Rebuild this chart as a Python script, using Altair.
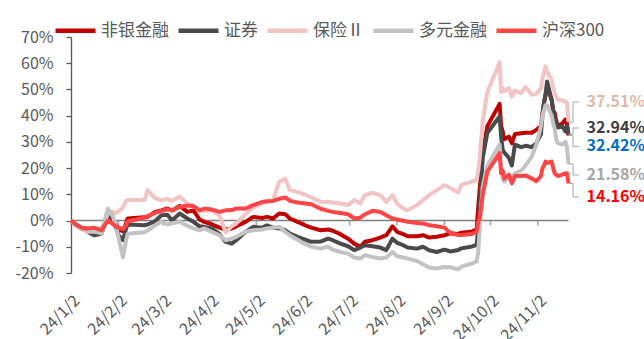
import altair as alt
import pandas as pd

# ---- data: cumulative return since 2024-01-02, in percent ----
dates = [
    "2024-01-02", "2024-01-05", "2024-01-09", "2024-01-12", "2024-01-17", "2024-01-22",
    "2024-01-24", "2024-01-26", "2024-01-29", "2024-01-31", "2024-02-02", "2024-02-05",
    "2024-02-07", "2024-02-08", "2024-02-19", "2024-02-21", "2024-02-26", "2024-03-01",
    "2024-03-05", "2024-03-08", "2024-03-13", "2024-03-18", "2024-03-22",
    "2024-03-26", "2024-03-29", "2024-04-03", "2024-04-08", "2024-04-12", "2024-04-16",
    "2024-04-19", "2024-04-25", "2024-04-30", "2024-05-06", "2024-05-09", "2024-05-13",
    "2024-05-17", "2024-05-21", "2024-05-24", "2024-05-29", "2024-06-03", "2024-06-07",
    "2024-06-13",
    "2024-06-18", "2024-06-21", "2024-06-26", "2024-07-01", "2024-07-05", "2024-07-09",
    "2024-07-12", "2024-07-17", "2024-07-22", "2024-07-26", "2024-07-30", "2024-08-02",
    "2024-08-06", "2024-08-09", "2024-08-15", "2024-08-19", "2024-08-23", "2024-08-28",
    "2024-09-02",
    "2024-09-06", "2024-09-11", "2024-09-13", "2024-09-20", "2024-09-23", "2024-09-24",
    "2024-09-25", "2024-09-26", "2024-09-27", "2024-09-30", "2024-10-08", "2024-10-09",
    "2024-10-10", "2024-10-11", "2024-10-14", "2024-10-16", "2024-10-18", "2024-10-22",
    "2024-10-25", "2024-10-29", "2024-11-01", "2024-11-04", "2024-11-05", "2024-11-06",
    "2024-11-07", "2024-11-08", "2024-11-11", "2024-11-12", "2024-11-13", "2024-11-14",
    "2024-11-15", "2024-11-18", "2024-11-20", "2024-11-21", "2024-11-22",
]

nonbank = [
    0, -1.5, -2.8, -3.0, -3.5, -4.5, -1.5, 2.0, 0.5, -1.0, -3.5, -4.0, -1.0, 0.8, 1.3, 1.4,
    3.3, 3.9, 4.6, 3.8, 5.6, 3.3, 3.9,
    0.4, -0.5, -1.4, -2.7, -3.4, -3.0, -2.2, -0.5, 1.4, 1.0, 1.4, 0.8, 2.7, 2.4, 0.8, -0.5,
    -1.8, -2.7, -3.7,
    -3.4, -3.9, -5.2, -6.9, -8.8, -10.0, -8.1, -7.5, -6.5, -5.6, -2.2, -4.3, -5.2, -6.0,
    -6.0, -5.6, -6.5, -6.2, -5.6,
    -4.8, -5.1, -4.6, -4.2, -3.3, 5.0, 12.0, 19.0, 26.0, 36.0, 44.5, 36.0, 34.0, 31.0,
    32.0, 29.5, 33.0, 33.3, 33.5, 33.5, 34.6, 36.0, 41.0, 45.0, 48.0, 51.0, 46.0, 42.0,
    41.0, 38.0, 36.0, 37.0, 38.5, 37.0, 32.42,
]

securities = [
    0, -1.8, -3.2, -4.0, -5.6, -5.0, -1.0, 3.0, 0.5, -2.0, -5.5, -7.5, -3.0, -1.5, -1.8,
    -1.5, -0.2, 2.0, 2.2, 0.0, 2.7, 0.8, -0.5,
    -2.2, -2.4, -3.0, -5.2, -8.1, -8.8, -7.5, -4.3, -2.4, -2.7, -1.8, -2.7, -3.0, -3.7,
    -5.0, -6.2, -7.3, -8.1, -8.0,
    -6.9, -7.5, -8.8, -9.8, -11.3, -10.3, -9.4, -9.8, -10.3, -11.3, -6.9, -8.5, -9.4,
    -10.3, -10.7, -10.0, -11.3, -12.0, -11.1,
    -11.8, -11.2, -10.6, -9.9, -9.3, -3.0, 5.0, 15.0, 24.0, 33.5, 39.7, 32.0, 27.0, 26.0,
    24.0, 21.0, 29.0, 28.0, 28.5, 28.0, 29.5, 33.0, 40.0, 45.0, 48.0, 53.0, 46.0, 42.0,
    39.0, 37.0, 35.5, 36.0, 34.0, 36.0, 32.94,
]

insurance = [
    0, -2.0, -3.2, -4.2, -4.3, -3.0, -0.5, 2.5, 3.5, 2.8, 3.5, 5.0, 7.5, 7.8, 7.8, 11.6,
    8.5, 7.8, 8.2, 7.5, 9.2, 6.5, 5.5,
    3.9, 3.6, 3.9, 2.0, -4.5, -2.2, -1.1, 2.4, 5.0, 6.5, 7.1, 7.8, 14.8, 16.0, 11.6, 10.9,
    9.9, 8.8, 7.2,
    7.1, 6.9, 6.5, 5.9, 7.8, 6.5, 9.7, 10.6, 9.7, 7.1, 9.7, 6.5, 4.6, 3.9, 5.9, 7.8, 9.7,
    11.6, 13.5,
    12.3, 10.7, 13.6, 14.9, 15.5, 19.0, 24.0, 31.0, 38.0, 49.0, 60.4, 49.0, 50.5, 49.2,
    50.5, 47.3, 49.6, 48.6, 50.9, 48.0, 48.3, 50.5, 54.3, 56.2, 58.8, 56.9, 53.7, 50.5,
    48.6, 47.3, 46.1, 45.8, 45.4, 44.8, 37.51,
]

diversified = [
    0, -1.8, -3.2, -3.5, -4.0, -5.0, 0.0, 4.6, 2.0, -1.0, -6.5, -14.0, -7.5, -5.0, -4.5,
    -3.8, -1.8, -0.5, -1.5, -1.0, -0.5, -2.0, -3.0,
    -3.7, -3.0, -4.3, -5.6, -7.5, -6.9, -6.2, -4.3, -3.7, -3.4, -3.0, -2.7, -2.4, -4.3,
    -5.6, -7.3, -9.0, -10.0, -10.7,
    -10.0, -11.1, -12.0, -12.6, -14.1, -14.5, -13.2, -13.9, -14.5, -14.1, -12.0, -13.6,
    -14.1, -14.5, -15.4, -16.7, -17.9, -18.3, -17.7,
    -17.8, -18.6, -17.6, -16.3, -15.6, -12.0, -3.0, 6.0, 13.0, 21.0, 28.9, 20.0, 16.0,
    14.9, 16.5, 16.0, 18.0, 19.0, 21.0, 24.4, 29.0, 36.0, 40.0, 42.0, 44.0, 44.0, 40.0,
    37.0, 35.0, 31.0, 29.5, 29.0, 30.0, 28.0, 21.58,
]

csi300 = [
    0, -1.4, -2.7, -3.1, -2.7, -3.7, -1.8, -0.1, -1.1, -2.2, -2.7, -3.2, -1.8, -0.3, 1.1,
    1.7, 2.9, 3.7, 4.3, 3.9, 5.2, 5.7, 5.5,
    3.9, 4.6, 4.2, 3.3, 3.9, 4.0, 4.6, 4.6, 5.9, 7.1, 7.4, 7.5, 8.3, 8.8, 7.5, 6.9, 6.5,
    6.2, 4.5,
    3.7, 3.3, 2.9, 2.4, 0.8, 1.1, 2.4, 3.7, 3.3, 2.0, 0.8, 0.4, -0.1, -0.5, -0.9, -1.1,
    -1.8, -2.2, -2.7,
    -4.8, -5.5, -5.5, -5.1, -4.2, -0.5, 0.8, 5.0, 10.0, 18.7, 25.7, 18.0, 19.0, 16.0,
    17.5, 14.2, 17.0, 17.0, 17.2, 16.0, 15.0, 17.0, 20.0, 21.0, 22.5, 22.0, 22.5, 20.0,
    18.0, 17.5, 17.0, 17.5, 18.0, 18.0, 14.16,
]

series_names = ["非银金融", "证券", "保险Ⅱ", "多元金融", "沪深300"]
series_values = [nonbank, securities, insurance, diversified, csi300]
series_colors = ["#C00000", "#4A4A4A", "#F2C4C4", "#C3C3C3", "#FF4545"]

# end-of-period callouts
end_label_colors = ["#0070C0", "#404040", "#DDB9A6", "#A6A6A6", "#FF0000"]
end_label_pos = [28.3, 35.3, 45.2, 17.4, 9.0]   # vertical slot of each callout (in %)

# month marks on the date axis (labelled as 24/1/2, 24/2/2, ...)
tick_dates = ["2024-01-02", "2024-02-02", "2024-03-02", "2024-04-02", "2024-05-02",
              "2024-06-02", "2024-07-02", "2024-08-02", "2024-09-02", "2024-10-02",
              "2024-11-02"]

# ---- tables ----
rows = []
for name, vals in zip(series_names, series_values):
    for d, v in zip(dates, vals):
        rows.append({"date": d, "series": name, "value": v})
df = pd.DataFrame(rows)

last_date = pd.Timestamp(dates[-1])
end_rows, leader_rows = [], []
for name, vals, col, ly in zip(series_names, series_values, end_label_colors, end_label_pos):
    v = vals[-1]
    end_rows.append({"date": dates[-1], "value": ly, "text": f"{v:.2f}%", "tcolor": col})
    pts = [(last_date, v), (last_date + pd.Timedelta(days=3), v),
           (last_date + pd.Timedelta(days=3), ly), (last_date + pd.Timedelta(days=7), ly)]
    for k, (d, y) in enumerate(pts):
        leader_rows.append({"series": name, "k": k, "date": d.strftime("%Y-%m-%d"), "value": y})
end_df = pd.DataFrame(end_rows)
leader_df = pd.DataFrame(leader_rows)
ticks_df = pd.DataFrame({"date": tick_dates, "value": [0] * len(tick_dates)})

W, H = 497.5, 236
GREY = "#595959"
FONT = "Noto Sans CJK SC"


def utc_date(s):
    t = pd.Timestamp(s)
    return alt.DateTime(year=t.year, month=t.month, date=t.day, utc=True)


x_scale = alt.Scale(type="utc", domain=[utc_date(dates[0]), utc_date(dates[-1])])
y_scale = alt.Scale(domain=[-20, 70], nice=False, zero=False)

x_enc = alt.X("date:T", scale=x_scale, title=None,
              axis=alt.Axis(values=[utc_date(d) for d in tick_dates], format="%y/%-m/%-d",
                            labelAngle=-45, labelFlush=False, labelOverlap=False,
                            ticks=False, domain=False, grid=False, labelPadding=19,
                            labelFontSize=16, labelColor=GREY, labelFont=FONT))
y_enc = alt.Y("value:Q", scale=y_scale, title=None,
              axis=alt.Axis(values=list(range(-20, 71, 10)), labelExpr="datum.value + '%'",
                            grid=False, domainColor=GREY, tickColor=GREY, tickSize=5,
                            domainWidth=1.3, tickWidth=1.3, labelPadding=13,
                            labelFontSize=16, labelColor=GREY, labelFont=FONT))

zero_line = alt.Chart(pd.DataFrame({"value": [0]})).mark_rule(
    color="#7F7F7F", strokeWidth=1.5).encode(y=y_enc)

zero_ticks = alt.Chart(ticks_df).mark_tick(
    orient="vertical", size=5, thickness=1.5, color="#7F7F7F", yOffset=2.5
).encode(x=x_enc, y=y_enc)

color_enc = alt.Color("series:N",
                      scale=alt.Scale(domain=series_names, range=series_colors),
                      legend=alt.Legend(orient="none", legendX=-18, legendY=-29,
                                        direction="horizontal", title=None,
                                        symbolType="stroke", symbolStrokeWidth=4.5,
                                        symbolSize=1600, labelFontSize=17,
                                        labelFont=FONT, labelColor=GREY,
                                        labelOffset=3, columnPadding=0))

lines = [
    alt.Chart(df).transform_filter(alt.datum.series == name)
    .mark_line(strokeWidth=4, strokeJoin="round")
    .encode(x=x_enc, y=y_enc, color=color_enc)
    for name in series_names
]

leaders = alt.Chart(leader_df).mark_line(color="#A6A6A6", strokeWidth=1).encode(
    x=x_enc, y=y_enc, detail="series:N", order="k:Q")

end_text = alt.Chart(end_df).mark_text(
    align="left", baseline="middle", dx=18, fontSize=16, fontWeight="bold", font=FONT
).encode(x=x_enc, y=y_enc, text="text:N", color=alt.Color("tcolor:N", scale=None))

chart = alt.layer(
    zero_line, zero_ticks, *lines, leaders, end_text
).properties(
    width=W, height=H,
    autosize=alt.AutoSizeParams(type="none"),
    padding={"left": 71, "top": 37, "right": 644 - 71 - W, "bottom": 339 - 37 - H},
    background="white",
).configure_view(stroke=None)

chart.save("out.html", embed_options={"renderer": "svg", "actions": False})
